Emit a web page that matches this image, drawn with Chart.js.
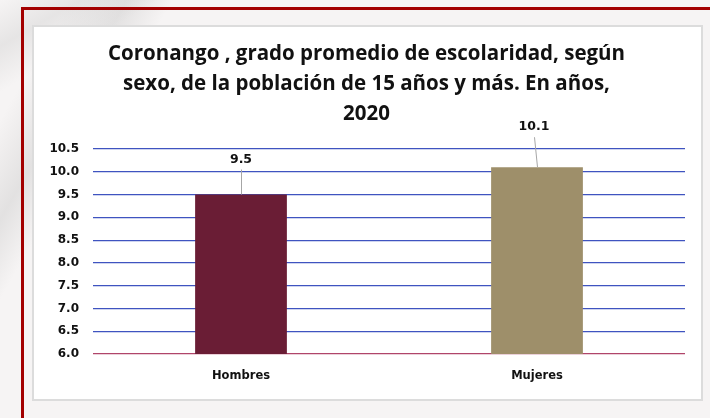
<!DOCTYPE html>
<html>
<head>
<meta charset="utf-8">
<script src="https://cdn.jsdelivr.net/npm/chart.js@4"></script>
<style>
  html, body { margin: 0; padding: 0; }
  body {
    width: 710px; height: 418px; overflow: hidden; position: relative;
    background:
      linear-gradient(150deg, rgba(255,255,255,0) 0px, rgba(200,200,200,0.35) 40px, rgba(255,255,255,0) 80px),
      linear-gradient(120deg, rgba(255,255,255,0) 60px, rgba(190,190,190,0.35) 110px, rgba(255,255,255,0) 150px),
      #f6f4f4;
  }
  #frame {
    position: absolute; left: 21px; top: 7px; width: 720px; height: 430px;
    border-left: 3px solid #a30000; border-top: 3px solid #a30000;
  }
  #box {
    position: absolute; left: 32px; top: 25px; width: 667px; height: 372px;
    background: #ffffff; border: 2px solid #dcdcdc;
  }
  canvas { display: block; }
</style>
</head>
<body>
<div id="frame"></div>
<div id="box"><canvas id="chart" width="667" height="372"></canvas></div>
<script>
const titleLines = [
  "Coronango , grado promedio de escolaridad, según",
  "sexo, de la población de 15 años y más. En años,",
  "2020"
];
const categories = ["Hombres", "Mujeres"];
const values = [9.5, 10.1];
const barColors = ["#6a1d35", "#9e8f6a"];
const yTicks = [6.0, 6.5, 7.0, 7.5, 8.0, 8.5, 9.0, 9.5, 10.0, 10.5];

const titlePlugin = {
  id: "titleLines",
  afterDraw(chart) {
    const ctx = chart.ctx;
    ctx.save();
    ctx.fillStyle = "#111111";
    ctx.font = "bold 20.5px 'Open Sans'";
    ctx.textAlign = "center";
    ctx.textBaseline = "middle";
    titleLines.forEach((line, i) => {
      ctx.fillText(line, chart.width / 2 - 1, 27 + i * 30);
    });
    ctx.restore();
  }
};

// value labels with a thin leader line down to the bar
const labelPlugin = {
  id: "barLabels",
  afterDatasetsDraw(chart) {
    const ctx = chart.ctx;
    const meta = chart.getDatasetMeta(0);
    const lift = [35, 40];
    const shift = [0, -3];
    ctx.save();
    meta.data.forEach((bar, i) => {
      const lx = bar.x + shift[i];
      const ly = bar.y - lift[i];
      ctx.strokeStyle = "#a6a6a6";
      ctx.lineWidth = 1;
      ctx.beginPath();
      ctx.moveTo(lx + 0.5, ly + 10);
      ctx.lineTo(bar.x + 0.5, bar.y);
      ctx.stroke();
      ctx.fillStyle = "#111111";
      ctx.font = "bold 12.5px 'DejaVu Sans'";
      ctx.textAlign = "center";
      ctx.textBaseline = "middle";
      ctx.fillText(values[i].toFixed(1), lx, ly);
    });
    ctx.restore();
  }
};

new Chart(document.getElementById("chart"), {
  type: "bar",
  data: {
    labels: categories,
    datasets: [{
      data: values,
      backgroundColor: barColors,
      borderWidth: 0,
      categoryPercentage: 1,
      barPercentage: 0.31
    }]
  },
  options: {
    responsive: false,
    animation: false,
    layout: { padding: { top: 122, left: 14, right: 16, bottom: 0 } },
    plugins: { legend: { display: false }, tooltip: { enabled: false }, title: { display: false } },
    scales: {
      x: {
        grid: { display: false },
        border: { display: false },
        ticks: { color: "#111111", font: { family: "DejaVu Sans", size: 11.5, weight: "bold" }, padding: 7 },
        afterFit(scale) { scale.height = 45; }
      },
      y: {
        min: 6,
        max: 10.5,
        afterBuildTicks(scale) { scale.ticks = yTicks.map(v => ({ value: v })); },
        grid: {
          color: ctx => ctx.tick && ctx.tick.value === 6 ? "#b0456a" : "#3f54c0",
          lineWidth: 1.2,
          drawTicks: false
        },
        border: { display: false },
        ticks: {
          color: "#111111",
          font: { family: "DejaVu Sans", size: 12, weight: "bold" },
          padding: 14,
          callback: v => Number(v).toFixed(1)
        },
        afterFit(scale) { scale.width = 45; }
      }
    }
  },
  plugins: [titlePlugin, labelPlugin]
});
</script>
</body>
</html>
